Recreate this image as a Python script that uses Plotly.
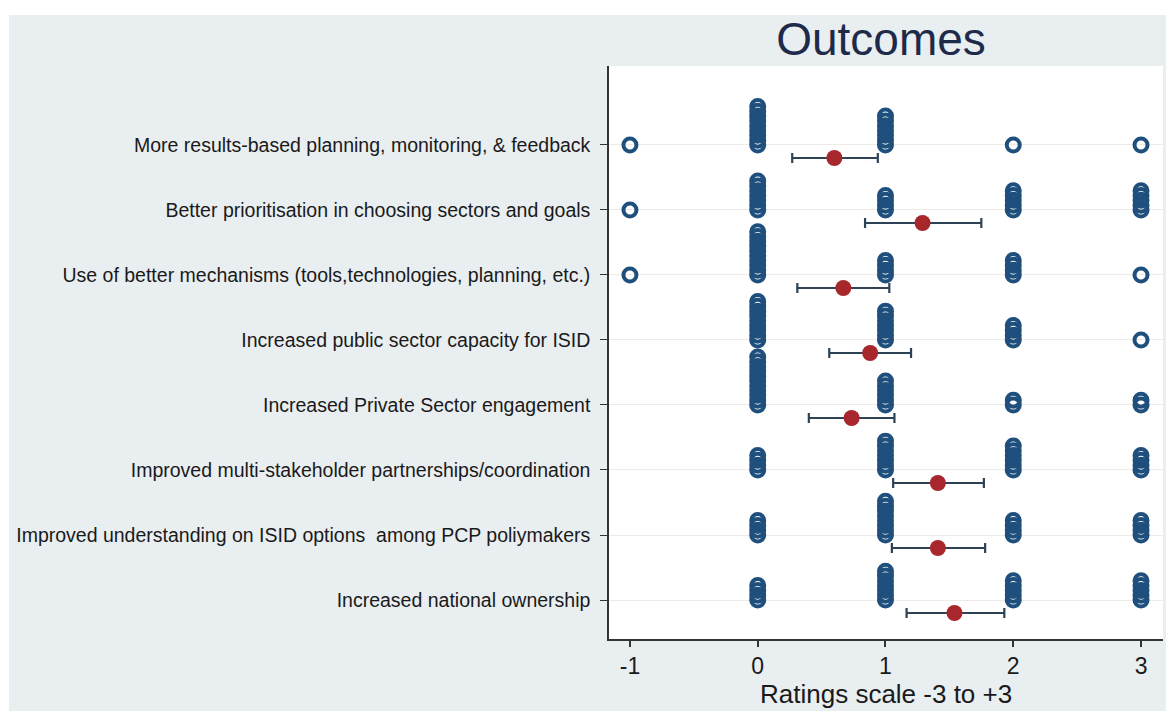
import plotly.graph_objects as go

# Outcome items, listed top to bottom
items = [
    "More results-based planning, monitoring, & feedback",
    "Better prioritisation in choosing sectors and goals",
    "Use of better mechanisms (tools,technologies, planning, etc.)",
    "Increased public sector capacity for ISID",
    "Increased Private Sector engagement",
    "Improved multi-stakeholder partnerships/coordination",
    "Improved understanding on ISID options  among PCP poliymakers",
    "Increased national ownership",
]

# Rating values and number of respondents giving each rating, per item
ratings = [-1, 0, 1, 2, 3]
counts = [
    [1, 9, 7, 1, 1],
    [1, 7, 4, 5, 5],
    [1, 10, 4, 4, 1],
    [0, 9, 7, 4, 1],
    [0, 11, 6, 2, 2],
    [0, 4, 7, 6, 4],
    [0, 4, 8, 4, 4],
    [0, 4, 7, 5, 5],
]

# Mean rating and interval bounds per item
means = [0.60, 1.29, 0.67, 0.88, 0.735, 1.41, 1.41, 1.54]
lower = [0.27, 0.84, 0.31, 0.56, 0.40, 1.06, 1.05, 1.165]
upper = [0.94, 1.75, 1.03, 1.20, 1.07, 1.77, 1.78, 1.93]

n_items = len(items)
row_pos = [n_items - i for i in range(n_items)]  # top item highest
stack_step = 0.074      # vertical offset between stacked responses
mean_offset = 0.2       # mean marker sits just below the item line

# Stacked individual responses
dot_x, dot_y = [], []
for pos, row in zip(row_pos, counts):
    for r, c in zip(ratings, row):
        for k in range(c):
            dot_x.append(r)
            dot_y.append(pos + k * stack_step)

fig = go.Figure()

fig.add_trace(go.Scatter(
    x=dot_x, y=dot_y, mode="markers",
    marker=dict(symbol="circle-open", size=13, color="#1f4f7d",
                line=dict(width=4, color="#1f4f7d")),
    hoverinfo="skip", showlegend=False,
))

fig.add_trace(go.Scatter(
    x=means, y=[p - mean_offset for p in row_pos], mode="markers",
    marker=dict(symbol="circle", size=16, color="#a8272d"),
    error_x=dict(type="data", symmetric=False,
                 array=[u - m for u, m in zip(upper, means)],
                 arrayminus=[m - l for m, l in zip(means, lower)],
                 color="#2e4256", thickness=2.2, width=5),
    showlegend=False,
))

font_family = "Liberation Sans, Arial, sans-serif"
bg_outer = "#e9eef1"

W, H = 1166, 711
ML, MR, MT, MB = 609, 3, 66, 72
PW, PH = W - ML - MR, H - MT - MB


def px_x(x):
    return (x - ML) / PW


def px_y(y):
    return (H - MB - y) / PH


fig.update_layout(
    width=W, height=H,
    margin=dict(l=ML, r=MR, t=MT, b=MB),
    paper_bgcolor=bg_outer,
    plot_bgcolor="white",
    font=dict(family=font_family, color="#1a1a1a"),
    title=dict(text="Outcomes", x=881 / W, xanchor="center",
               y=1 - 39 / H, yanchor="middle",
               font=dict(size=46, color="#1e2a4a", family=font_family)),
    xaxis=dict(
        range=[-1.164, 3.172],
        tickmode="array", tickvals=ratings, ticktext=[str(r) for r in ratings],
        tickfont=dict(size=23, color="#1a1a1a"),
        ticks="outside", ticklen=6, tickwidth=1.5, tickcolor="#333",
        showline=True, linecolor="#333", linewidth=1.5,
        showgrid=False, zeroline=False,
    ),
    yaxis=dict(
        range=[0.40, 9.215],
        tickmode="array", tickvals=row_pos, ticktext=items,
        tickfont=dict(size=19.5, color="#1a1a1a"),
        ticks="outside", ticklen=7, tickwidth=1, tickcolor="#333",
        ticklabelstandoff=6,
        showline=True, linecolor="#333", linewidth=1.5,
        showgrid=True, gridcolor="#eeebe7", gridwidth=1,
        zeroline=False,
    ),
    annotations=[
        dict(text="Ratings scale -3 to +3", xref="paper", yref="paper",
             x=px_x(886), y=px_y(694), xanchor="center", yanchor="middle",
             showarrow=False, font=dict(size=26, color="#1a1a1a")),
    ],
    shapes=[
        # white strips along the top and left edges of the page
        dict(type="rect", xref="paper", yref="paper",
             x0=px_x(0), x1=px_x(W), y0=px_y(15), y1=px_y(0),
             fillcolor="white", line=dict(width=0), layer="below"),
        dict(type="rect", xref="paper", yref="paper",
             x0=px_x(0), x1=px_x(9), y0=px_y(H), y1=px_y(0),
             fillcolor="white", line=dict(width=0), layer="below"),
    ],
)

fig.write_html("out.html")
